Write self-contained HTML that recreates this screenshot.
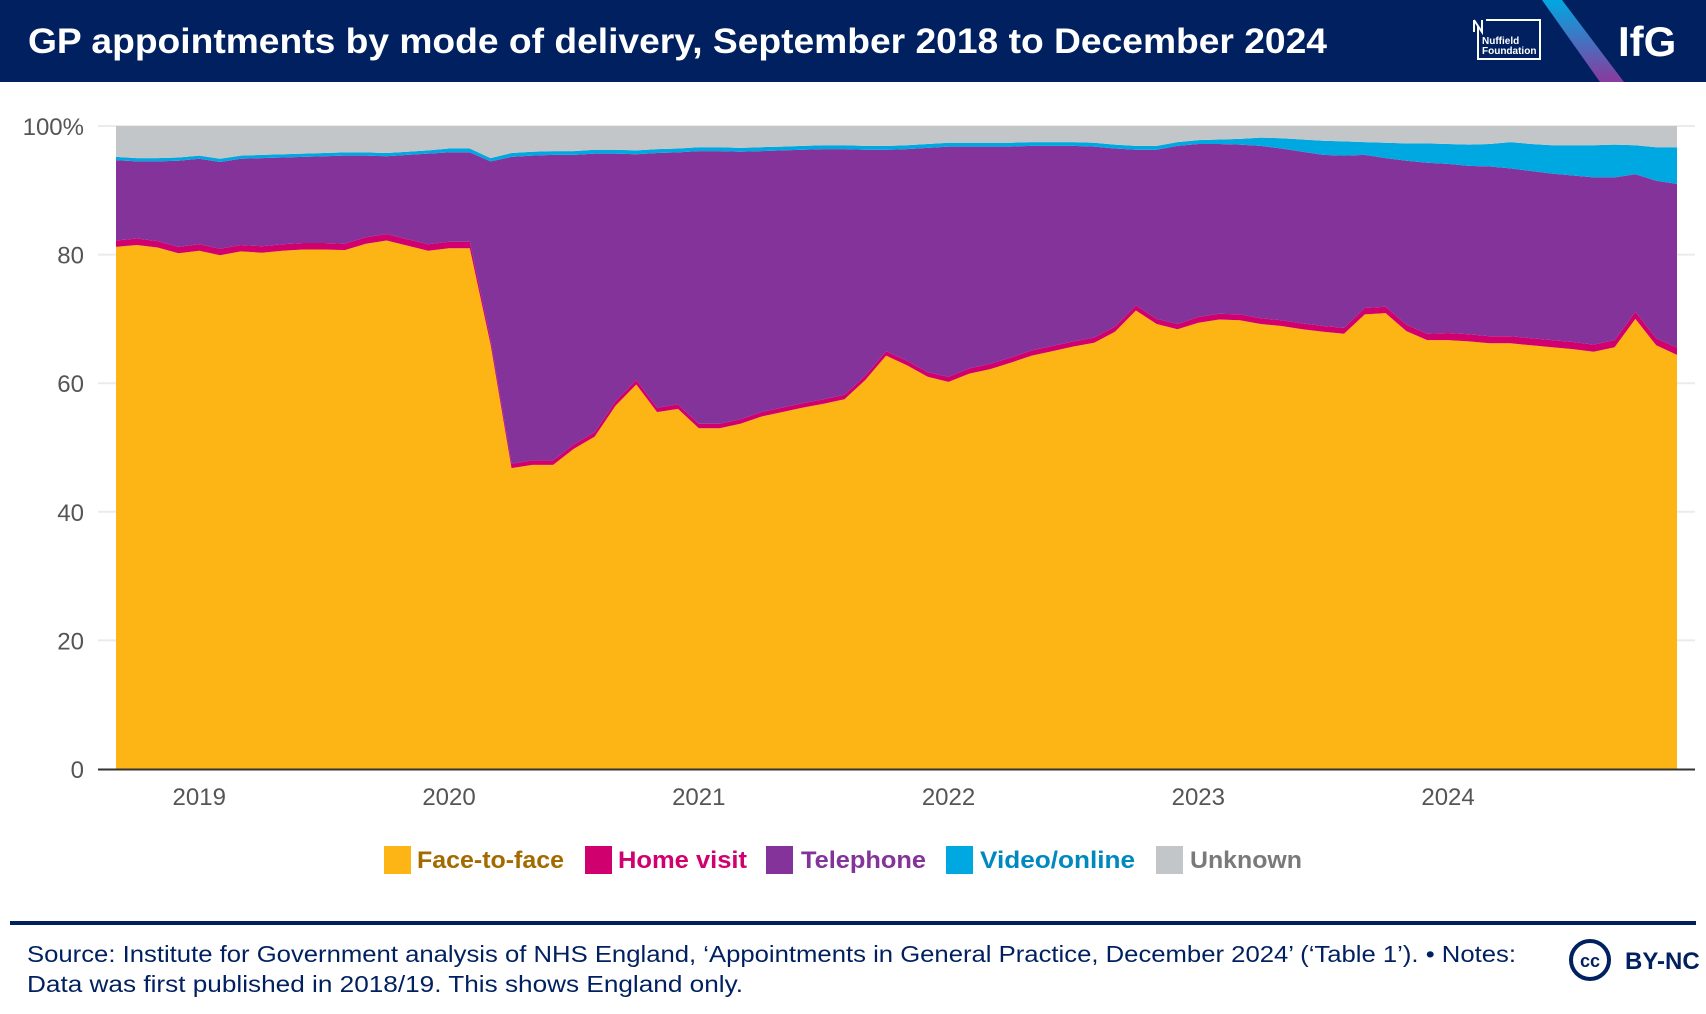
<!DOCTYPE html>
<html><head><meta charset="utf-8">
<style>
body{margin:0;width:1706px;height:1014px;background:#fff;overflow:hidden;font-family:"Liberation Sans",sans-serif;}
svg{display:block}
</style></head>
<body>
<svg id="chart" width="1706" height="1014" viewBox="0 0 1706 1014" xmlns="http://www.w3.org/2000/svg">
<defs>
<linearGradient id="stripe" x1="0" y1="0" x2="0" y2="1">
<stop offset="0" stop-color="#00A8E1"/><stop offset="1" stop-color="#8A3A9E"/>
</linearGradient>
</defs>
<rect x="0" y="0" width="1706" height="82" fill="#00205F"/>
<text x="28" y="53" font-size="35" font-weight="bold" fill="#fff" textLength="1299" lengthAdjust="spacingAndGlyphs">GP appointments by mode of delivery, September 2018 to December 2024</text>
<g>
<path d="M1478 26 L1478 59 L1540 59 L1540 20 L1486 20" fill="none" stroke="#fff" stroke-width="2"/>
<path d="M1474 20 L1474 32 M1474 20 L1482 32 L1482 20" fill="none" stroke="#fff" stroke-width="2"/>
<text x="1482" y="44" font-size="10" font-weight="bold" fill="#fff">Nuffield</text>
<text x="1482" y="54" font-size="10" font-weight="bold" fill="#fff">Foundation</text>
</g>
<polygon points="1542,0 1562,0 1624,82 1600,82" fill="url(#stripe)"/>
<text x="1618" y="56" font-size="42" font-weight="bold" fill="#fff">IfG</text>
<g id="grid"></g>
<g id="areas"></g>
<g id="axes"></g>
<g font-size="24" font-weight="bold">
<g><rect x="384" y="846" width="27" height="28" fill="#FDB515"/><text x="417" y="868" fill="#A36A00" textLength="147" lengthAdjust="spacingAndGlyphs">Face-to-face</text></g>
<g><rect x="585" y="846" width="27" height="28" fill="#D0006F"/><text x="618" y="868" fill="#D0006F" textLength="129" lengthAdjust="spacingAndGlyphs">Home visit</text></g>
<g><rect x="766" y="846" width="27" height="28" fill="#833399"/><text x="801" y="868" fill="#833399" textLength="125" lengthAdjust="spacingAndGlyphs">Telephone</text></g>
<g><rect x="946" y="846" width="27" height="28" fill="#00A8E1"/><text x="980" y="868" fill="#0088C0" textLength="155" lengthAdjust="spacingAndGlyphs">Video/online</text></g>
<g><rect x="1156" y="846" width="27" height="28" fill="#C3C6C8"/><text x="1190" y="868" fill="#7A7A7A" textLength="112" lengthAdjust="spacingAndGlyphs">Unknown</text></g>
</g>
<rect x="10" y="921" width="1686" height="4" fill="#00205F"/>
<text x="27" y="962" font-size="23" fill="#00205F" textLength="1489" lengthAdjust="spacingAndGlyphs">Source: Institute for Government analysis of NHS England, ‘Appointments in General Practice, December 2024’ (‘Table 1’). • Notes:</text>
<text x="27" y="992" font-size="23" fill="#00205F" textLength="716" lengthAdjust="spacingAndGlyphs">Data was first published in 2018/19. This shows England only.</text>
<g>
<circle cx="1590" cy="960" r="19" fill="none" stroke="#00205F" stroke-width="4"/>
<text x="1590" y="967" font-size="18" font-weight="bold" fill="#00205F" text-anchor="middle">cc</text>
<text x="1625" y="969" font-size="24" font-weight="bold" fill="#00205F">BY-NC</text>
</g>
</svg>
<script>
const years = ["2019","2020","2021","2022","2023","2024"];
const yTicks = [0,20,40,60,80,100];
const faceToFace = [81.2,81.5,81.1,80.2,
80.6,79.9,80.5,80.3,80.6,80.8,80.8,80.7,81.7,82.2,81.4,80.6,
81,81,66,46.8,47.3,47.3,49.8,51.7,56.5,59.8,55.5,56.0,
53,53,53.7,54.8,55.5,56.2,56.8,57.5,60.5,64.3,62.8,61.0,
60.2,61.5,62.2,63.2,64.3,65,65.7,66.3,68,71.3,69.2,68.4,
69.4,69.9,69.8,69.2,68.9,68.4,68,67.7,70.7,70.9,68.1,66.7,
66.7,66.5,66.2,66.2,65.9,65.6,65.3,64.9,65.6,70.0,65.9,64.4];
const homeVisit = [1,1,1,1, 1,1,1,1,1,1,1,1,1,1,1,1,
1,1,0.8,0.7,0.7,0.7,0.7,0.7,0.7,0.7,0.7,0.7,
0.7,0.7,0.7,0.7,0.7,0.7,0.7,0.7,0.7,0.7,0.7,0.7,
0.8,0.8,0.8,0.8,0.8,0.8,0.8,0.8,0.8,0.8,0.8,0.8,
0.9,0.9,0.9,0.9,0.9,0.9,0.9,0.9,1,1,1,1,
1.1,1.1,1.1,1.1,1.1,1.1,1.1,1.1,1.1,1.1,1.1,1.1];
const telephone = [12.5,12.0,12.4,13.4,
13.3,13.5,13.4,13.7,13.5,13.4,13.5,13.7,12.7,12.1,13.1,14.1,
13.9,13.9,27.7,47.7,47.4,47.5,45.0,43.3,38.5,35.1,39.6,39.2,
42.4,42.4,41.6,40.6,40.0,39.4,38.9,38.2,35.1,31.3,32.9,34.9,
35.8,34.5,33.8,32.8,31.8,31.1,30.4,29.7,27.7,24.2,26.3,27.7,
26.9,26.4,26.4,26.8,26.7,26.7,26.6,26.8,23.8,23.1,25.5,26.6,
26.3,26.2,26.4,26.1,26.0,25.9,25.9,26.0,25.3,21.4,24.5,25.5];
const videoOnline = [0.5,0.5,0.5,0.5, 0.5,0.5,0.5,0.5,0.5,0.5,0.5,0.5,0.5,0.5,0.5,0.5,
0.6,0.6,0.5,0.6,0.6,0.6,0.6,0.6,0.6,0.6,0.6,0.6,
0.6,0.6,0.6,0.6,0.6,0.6,0.6,0.6,0.6,0.6,0.6,0.6,
0.6,0.6,0.6,0.6,0.6,0.6,0.6,0.6,0.6,0.6,0.6,0.6,
0.6,0.7,0.9,1.3,1.6,1.9,2.2,2.2,2.0,2.4,2.7,3.0,
3.1,3.3,3.5,4.1,4.2,4.4,4.7,5.0,5.1,4.5,5.2,5.7];
const unknown = [4.8,5.0,5.0,4.9,
4.6,5.1,4.6,4.5,4.4,4.3,4.2,4.1,4.1,4.2,4.0,3.8,
3.5,3.5,5.0,4.2,4.0,3.9,3.9,3.7,3.7,3.8,3.6,3.5,
3.3,3.3,3.4,3.3,3.2,3.1,3.0,3.0,3.1,3.1,3.0,2.8,
2.6,2.6,2.6,2.6,2.5,2.5,2.5,2.6,2.9,3.1,3.1,2.5,
2.2,2.1,2.0,1.8,1.9,2.1,2.3,2.4,2.5,2.6,2.7,2.7,
2.8,2.9,2.8,2.5,2.8,3.0,3.0,3.0,2.9,3.0,3.3,3.3];

const NS="http://www.w3.org/2000/svg";
const x0=116, monthW=(1677-116)/75, yBase=769, yTop=126;
function xPos(i){return x0+i*monthW;}
function yPos(v){return yBase-(v/100)*(yBase-yTop);}
const grid=document.getElementById('grid'), areas=document.getElementById('areas'), axes=document.getElementById('axes');
yTicks.forEach(t=>{
  if(t>0){const l=document.createElementNS(NS,'line');
  
  
  l.setAttribute('x1',98);l.setAttribute('x2',1695);l.setAttribute('y1',yPos(t));l.setAttribute('y2',yPos(t));
  l.setAttribute('stroke','#EBEBEB');l.setAttribute('stroke-width',2);grid.appendChild(l);}
  const tx=document.createElementNS(NS,'text');
  
  
  tx.setAttribute('x',84);tx.setAttribute('y',yPos(t)+9);tx.setAttribute('text-anchor','end');
  tx.setAttribute('font-size',24);tx.setAttribute('fill','#555');
  tx.textContent=t===100?'100%':String(t);axes.appendChild(tx);
});
const series=[[faceToFace,'#FDB515','area-face-to-face'],[homeVisit,'#D0006F','area-home-visit'],[telephone,'#833399','area-telephone'],[videoOnline,'#00A8E1','area-video-online'],[unknown,'#C3C6C8','area-unknown']];
let base=faceToFace.map(()=>0);
series.forEach(([vals,col,name])=>{
  const top=vals.map((v,i)=>base[i]+v);
  let d='M'+top.map((v,i)=>xPos(i).toFixed(1)+','+yPos(v).toFixed(1)).join(' L');
  for(let i=vals.length-1;i>=0;i--) d+=' L'+xPos(i).toFixed(1)+','+yPos(base[i]).toFixed(1);
  d+=' Z';
  const p=document.createElementNS(NS,'path');
  
  
  p.setAttribute('d',d);p.setAttribute('fill',col);areas.appendChild(p);
  base=top;
});
const ax=document.createElementNS(NS,'line');


ax.setAttribute('x1',98);ax.setAttribute('x2',1695);ax.setAttribute('y1',yBase+0.5);ax.setAttribute('y2',yBase+0.5);
ax.setAttribute('stroke','#333');ax.setAttribute('stroke-width',2);axes.appendChild(ax);
years.forEach((y,k)=>{
  const tx=document.createElementNS(NS,'text');
  
  
  tx.setAttribute('x',xPos(4+12*k));tx.setAttribute('y',805);tx.setAttribute('text-anchor','middle');
  tx.setAttribute('font-size',24);tx.setAttribute('fill','#555');tx.textContent=y;axes.appendChild(tx);
});
</script>
</body></html>
